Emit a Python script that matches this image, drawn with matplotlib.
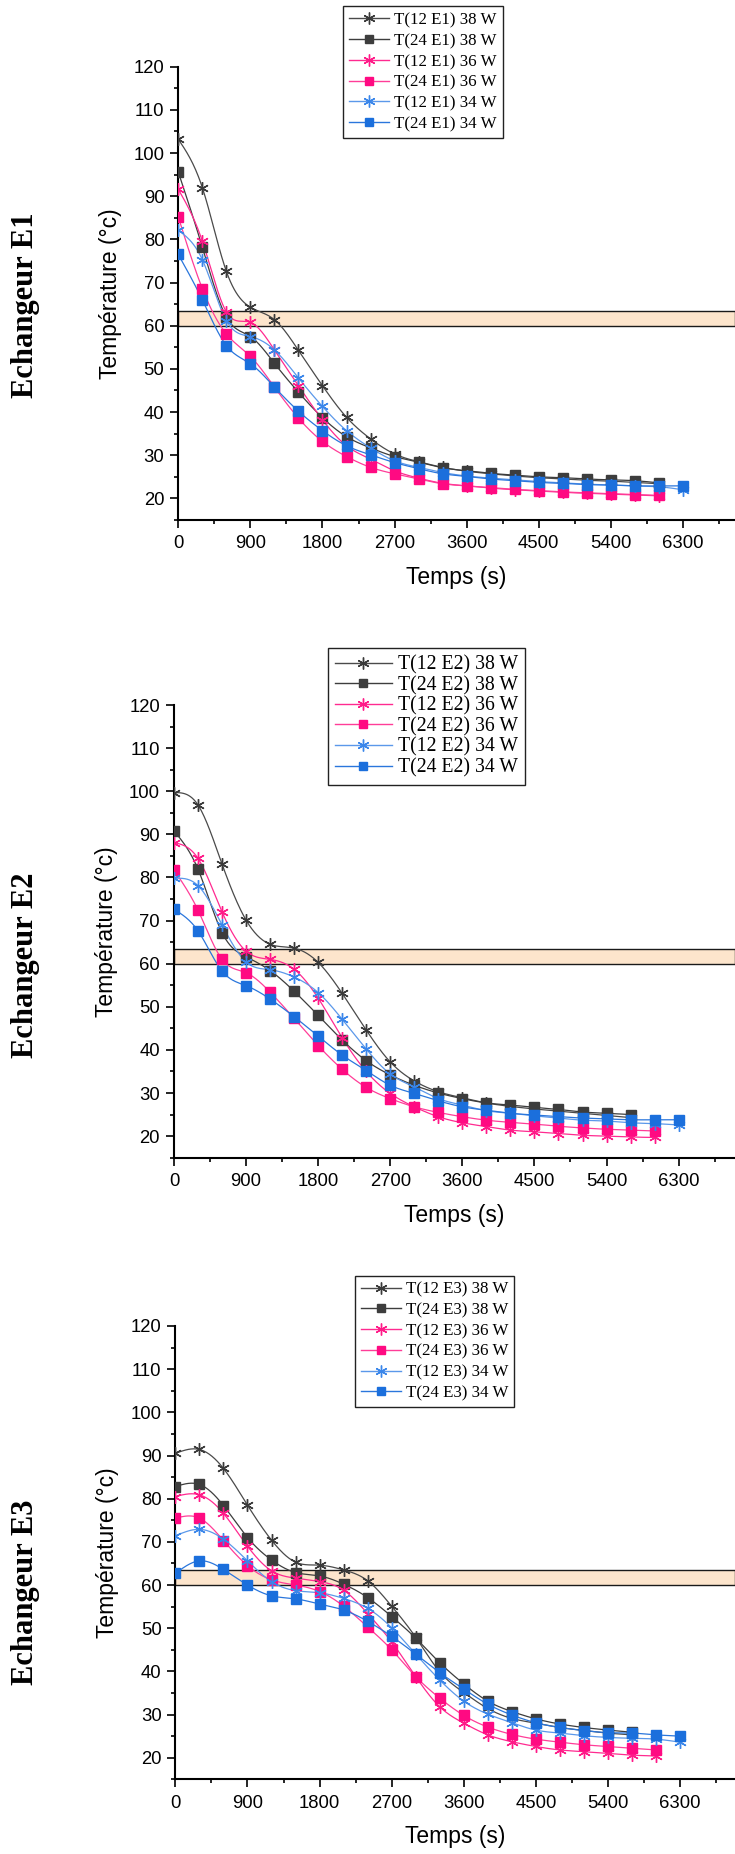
import numpy as np
import matplotlib
matplotlib.use("Agg")
import matplotlib.pyplot as plt
from matplotlib.lines import Line2D
from matplotlib.ticker import MultipleLocator
from matplotlib.font_manager import FontProperties

# ---------------------------------------------------------------- data
TIME_S = [0, 300, 600, 900, 1200, 1500, 1800, 2100, 2400, 2700, 3000,
          3300, 3600, 3900, 4200, 4500, 4800, 5100, 5400, 5700, 6000, 6300]

# Echangeur E1
E1_T12_38W = [103.2, 92.0, 72.6, 64.3, 61.4, 54.3, 46.1, 38.8, 33.8, 30.3, 28.5,
              27.2, 26.3, 25.7, 25.2, 24.8, 24.5, 24.2, 24.0, 23.7, 23.4]
E1_T24_38W = [95.6, 78.2, 62.0, 57.5, 51.3, 44.6, 38.7, 34.3, 31.7, 29.7, 28.4,
              27.1, 26.4, 25.8, 25.4, 25.0, 24.8, 24.5, 24.3, 24.1, 23.6]
E1_T12_36W = [91.6, 79.6, 63.2, 60.8, 54.4, 46.1, 38.2, 32.2, 29.1, 26.4, 24.7,
              23.5, 22.9, 22.4, 22.0, 21.7, 21.4, 21.2, 21.0, 20.8, 20.6]
E1_T24_36W = [85.2, 68.6, 58.1, 52.9, 45.8, 38.6, 33.2, 29.7, 27.2, 25.7, 24.5,
              23.4, 22.9, 22.5, 22.1, 21.8, 21.5, 21.3, 21.1, 20.9, 20.7]
E1_T12_34W = [82.1, 75.3, 61.2, 57.5, 54.4, 47.9, 41.3, 35.7, 31.7, 28.7, 27.2,
              26.0, 25.2, 24.7, 24.3, 23.9, 23.6, 23.3, 23.1, 22.9, 22.7, 22.0]
E1_T24_34W = [76.5, 66.0, 55.4, 51.2, 45.8, 40.2, 35.7, 32.2, 30.1, 28.3, 26.9,
              25.7, 25.1, 24.5, 24.1, 23.7, 23.5, 23.2, 23.1, 22.9, 22.9, 22.9]

# Echangeur E2
E2_T12_38W = [99.7, 96.8, 83.1, 70.1, 64.5, 63.6, 60.3, 53.1, 44.6, 37.2, 32.8,
              30.3, 28.9, 27.7, 26.9, 26.3, 25.8, 25.3, 24.8, 24.3]
E2_T24_38W = [90.8, 81.9, 67.2, 61.6, 58.4, 53.6, 48.0, 42.3, 37.5, 34.2, 31.8,
              30.0, 28.7, 27.7, 27.2, 26.7, 26.2, 25.6, 25.3, 25.0]
E2_T12_36W = [88.1, 84.4, 72.0, 62.9, 61.0, 58.7, 52.0, 42.8, 35.0, 29.9, 26.8,
              24.5, 23.1, 22.2, 21.4, 21.0, 20.6, 20.2, 20.0, 19.8, 19.7]
E2_T24_36W = [81.7, 72.4, 61.0, 57.9, 53.4, 47.3, 41.0, 35.5, 31.3, 28.7, 26.8,
              25.5, 24.5, 23.7, 23.2, 22.8, 22.3, 21.9, 21.6, 21.4, 21.2]
E2_T12_34W = [79.8, 78.1, 69.0, 60.4, 58.6, 56.9, 53.3, 47.1, 40.2, 34.4, 31.4,
              28.7, 27.2, 25.9, 25.3, 24.7, 24.2, 23.7, 23.5, 23.1, 22.9, 22.6]
E2_T24_34W = [72.6, 67.6, 58.3, 54.9, 51.8, 47.7, 43.2, 38.8, 35.2, 31.8, 29.9,
              28.2, 26.8, 26.0, 25.3, 24.9, 24.5, 24.2, 24.0, 23.8, 23.8, 23.8]

# Echangeur E3
E3_T12_38W = [90.5, 91.4, 87.0, 78.5, 70.4, 65.3, 64.6, 63.5, 61.0, 55.1, 47.9,
              39.9, 35.1, 31.4, 29.1, 28.0, 27.0, 26.3, 25.7, 25.3]
E3_T24_38W = [82.8, 83.3, 78.4, 71.0, 65.8, 62.9, 62.1, 60.2, 57.1, 52.7, 47.7,
              42.0, 37.1, 33.1, 30.7, 29.0, 27.8, 27.0, 26.4, 25.9]
E3_T12_36W = [80.5, 80.9, 76.6, 69.0, 63.3, 61.6, 60.8, 58.8, 53.4, 46.8, 38.8,
              31.8, 28.0, 25.3, 23.7, 22.6, 21.8, 21.4, 21.0, 20.6, 20.4]
E3_T24_36W = [75.5, 75.5, 70.3, 64.5, 61.2, 60.0, 58.5, 55.1, 50.3, 45.0, 38.8,
              33.8, 29.8, 27.1, 25.4, 24.3, 23.6, 23.0, 22.6, 22.2, 21.8]
E3_T12_34W = [71.4, 72.9, 70.6, 65.6, 60.8, 58.7, 58.2, 56.9, 54.6, 50.1, 44.0,
              38.0, 33.1, 30.1, 28.1, 26.4, 25.7, 25.1, 24.7, 24.5, 24.3, 23.6]
E3_T24_34W = [62.7, 65.6, 63.6, 60.0, 57.5, 56.8, 55.6, 54.2, 51.6, 48.1, 44.0,
              39.7, 35.9, 32.4, 29.9, 28.1, 27.0, 26.3, 25.8, 25.7, 25.3, 25.0]

EXCHANGERS = ["E1", "E2", "E3"]
SERIES = {
    "E1": [E1_T12_38W, E1_T24_38W, E1_T12_36W, E1_T24_36W, E1_T12_34W, E1_T24_34W],
    "E2": [E2_T12_38W, E2_T24_38W, E2_T12_36W, E2_T24_36W, E2_T12_34W, E2_T24_34W],
    "E3": [E3_T12_38W, E3_T24_38W, E3_T12_36W, E3_T24_36W, E3_T12_34W, E3_T24_34W],
}
PROBES = ["12", "24", "12", "24", "12", "24"]
POWERS = ["38", "38", "36", "36", "34", "34"]
BAND_LOW, BAND_HIGH = 60.0, 63.5

# ---------------------------------------------------------------- style
STAR = (6, 2, 0)
STYLE = [
    dict(marker=STAR, color="#4a4a4a", mec="#3a3a3a", ms=9),
    dict(marker="s", color="#3d3d3d", mec="#3d3d3d", ms=6.5),
    dict(marker=STAR, color="#ff2a90", mec="#ff1a88", ms=9),
    dict(marker="s", color="#ff3d98", mec="#ff0a82", ms=6.5),
    dict(marker=STAR, color="#5b98ea", mec="#3a86ea", ms=9),
    dict(marker="s", color="#2a76dc", mec="#1b6fdc", ms=6.5),
]


def natural_spline(x, y, n=500):
    """Smooth curve through the points (natural cubic spline)."""
    x = np.asarray(x, float)
    y = np.asarray(y, float)
    m = len(x)
    h = np.diff(x)
    A = np.zeros((m, m))
    r = np.zeros(m)
    A[0, 0] = A[-1, -1] = 1.0
    for i in range(1, m - 1):
        A[i, i - 1] = h[i - 1]
        A[i, i] = 2 * (h[i - 1] + h[i])
        A[i, i + 1] = h[i]
        r[i] = 3 * ((y[i + 1] - y[i]) / h[i] - (y[i] - y[i - 1]) / h[i - 1])
    c = np.linalg.solve(A, r)
    b = (y[1:] - y[:-1]) / h - h * (2 * c[:-1] + c[1:]) / 3
    d = (c[1:] - c[:-1]) / (3 * h)
    xs = np.linspace(x[0], x[-1], n)
    k = np.clip(np.searchsorted(x, xs, side="right") - 1, 0, m - 2)
    dx = xs - x[k]
    return xs, y[k] + b[k] * dx + c[k] * dx ** 2 + d[k] * dx ** 3


W, H = 735, 1854
fig = plt.figure(figsize=(W / 100, H / 100), dpi=100)

sans = "Liberation Sans"
serif = "Liberation Serif"

# axes boxes in pixels: left, top, bottom
PANELS = {"E1": (178.3, 66.7, 520.0), "E2": (174.0, 705.0, 1157.7), "E3": (175.4, 1326.0, 1779.3)}
# legend anchor (px), font size, handle length, row spacing
LEGENDS = {"E1": (343.3, 6.5, 12.2, 2.35, 0.28),
           "E2": (327.7, 648.3, 14.2, 2.9, 0.07),
           "E3": (355.0, 1275.7, 12.2, 2.35, 0.28)}
# vertical position (px) of the exchanger title
TITLE_Y = {"E1": 305, "E2": 965, "E3": 1592}
PX_PER_S = 0.0801

for ex in EXCHANGERS:
    left, top, bottom = PANELS[ex]
    ax = fig.add_axes([left / W, 1 - bottom / H, 1 - left / W, (bottom - top) / H])
    ax.axhspan(BAND_LOW, BAND_HIGH, facecolor="#fde5cc", edgecolor="#1a1a1a",
               linewidth=1.0, zorder=1)
    handles, labels = [], []
    for vals, probe, power, st in zip(SERIES[ex], PROBES, POWERS, STYLE):
        t = TIME_S[:len(vals)]
        xs, ys = natural_spline(t, vals)
        ax.plot(xs, ys, color=st["color"], lw=0.9, zorder=3)
        ax.plot(t, vals, ls="none", marker=st["marker"], ms=st["ms"],
                color=st["mec"], mfc=st["mec"], mec=st["mec"], mew=1.0, zorder=4)
        handles.append(Line2D([], [], color=st["color"], lw=1.0, marker=st["marker"],
                              ms=st["ms"] * 0.95, mfc=st["mec"], mec=st["mec"], mew=1.0))
        labels.append(f"T({probe} {ex}) {power} W")

    ax.set_xlim(0, (W - left) / PX_PER_S)
    ax.set_ylim(15, 120)
    ax.xaxis.set_major_locator(MultipleLocator(900))
    ax.xaxis.set_minor_locator(MultipleLocator(450))
    ax.yaxis.set_major_locator(MultipleLocator(10))
    ax.yaxis.set_minor_locator(MultipleLocator(5))
    for s in ("top", "right"):
        ax.spines[s].set_visible(False)
    for s in ("left", "bottom"):
        ax.spines[s].set_linewidth(1.5)
    ax.tick_params(which="major", direction="out", length=6, width=1.2,
                   labelsize=13.3, pad=4)
    ax.tick_params(which="minor", direction="out", length=3.2, width=1.2)
    for lab in ax.get_xticklabels() + ax.get_yticklabels():
        lab.set_fontfamily(sans)
    ax.set_xticks([0, 900, 1800, 2700, 3600, 4500, 5400, 6300])
    ax.set_xticklabels(["0", "900", "1800", "2700", "3600", "4500", "5400", "6300"],
                       fontfamily=sans, fontsize=13.3)
    ax.tick_params(axis="x", pad=5)

    ax.set_xlabel("Temps (s)", fontfamily=sans, fontsize=16.5, labelpad=10)
    ax.set_ylabel("Température (°c)", fontfamily=sans, fontsize=16.5, labelpad=8)

    fig.text(26 / W, 1 - TITLE_Y[ex] / H, f"Echangeur {ex}", rotation=90,
             ha="center", va="center", fontfamily=serif, fontweight="bold",
             fontsize=22)

    lx, ly, lfs, hl, ls = LEGENDS[ex]
    fig.legend(handles, labels, loc="upper left", bbox_to_anchor=(lx / W, 1 - ly / H),
               bbox_transform=fig.transFigure, frameon=True, fancybox=False,
               edgecolor="#222222", framealpha=1, borderaxespad=0,
               prop=FontProperties(family=serif, size=lfs),
               handlelength=hl, handletextpad=0.3, borderpad=0.35,
               labelspacing=ls).get_frame().set_linewidth(1.0)

fig.savefig("out.png", dpi=100)
